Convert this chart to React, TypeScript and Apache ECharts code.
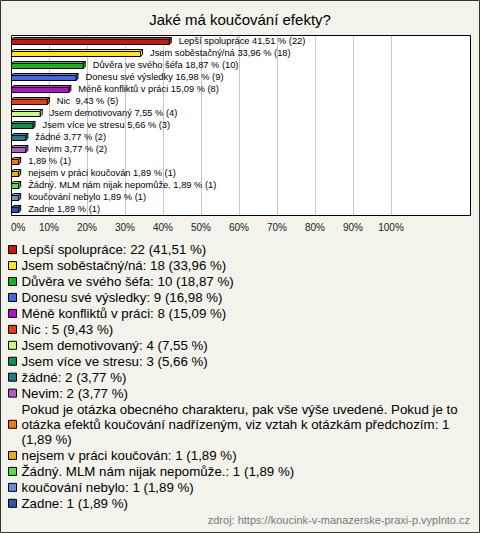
import React, { useEffect, useRef } from "react";
import * as echarts from "echarts";

const FONT = '"Liberation Sans", Arial, sans-serif';

const titleText = "Jaké má koučování efekty?";
const sourceText = "zdroj: https://koucink-v-manazerske-praxi-p.vyplnto.cz";

const categories = [
  "Lepší spolupráce",
  "Jsem soběstačný/ná",
  "Důvěra ve svého šéfa",
  "Donesu své výsledky",
  "Méně konfliktů v práci",
  "Nic ",
  "Jsem demotivovaný",
  "Jsem více ve stresu",
  "žádné",
  "Nevim",
  "Pokud je otázka obecného charakteru, pak vše výše uvedené. Pokud je to otázka efektů koučování nadřízeným, viz vztah k otázkám předchozím",
  "nejsem v práci koučován",
  "Žádný. MLM nám nijak nepomůže.",
  "koučování nebylo",
  "Zadne",
];

// short names shown next to the bars ("" = name omitted)
const barNames = [
  "Lepší spolupráce",
  "Jsem soběstačný/ná",
  "Důvěra ve svého šéfa",
  "Donesu své výsledky",
  "Méně konfliktů v práci",
  "Nic ",
  "Jsem demotivovaný",
  "Jsem více ve stresu",
  "žádné",
  "Nevim",
  "",
  "nejsem v práci koučován",
  "Žádný. MLM nám nijak nepomůže.",
  "koučování nebylo",
  "Zadne",
];

const counts = [22, 18, 10, 9, 8, 5, 4, 3, 2, 2, 1, 1, 1, 1, 1];
const percents = [41.51, 33.96, 18.87, 16.98, 15.09, 9.43, 7.55, 5.66, 3.77, 3.77, 1.89, 1.89, 1.89, 1.89, 1.89];

const colors = [
  "#c41a0e",
  "#fce614",
  "#16b416",
  "#4466e0",
  "#b012c8",
  "#e0420e",
  "#ccf87c",
  "#0e9050",
  "#1e7a8c",
  "#b45ac4",
  "#ec7c0c",
  "#e0b014",
  "#50e040",
  "#6890d8",
  "#2c54b0",
];

// where the long legend text wraps
const legendBreaks = [" Pokud je to ", " předchozím: 1 "];

const fmt = (v: number) => v.toFixed(2).replace(".", ",");

export default function App() {
  const ref = useRef<HTMLDivElement>(null);

  useEffect(() => {
    if (!ref.current) return;
    const chart = echarts.init(ref.current, null, { renderer: "svg" });

    const series: any[] = categories.map((name, i) => ({
      type: "custom",
      name,
      xAxisIndex: 1,
      yAxisIndex: 1,
      clip: false,
      z: 5,
      itemStyle: { color: colors[i] },
      data: [[percents[i], i]],
      renderItem: (params: any, api: any) => {
        const v = api.value(0);
        const c = api.value(1);
        const s = api.coord([0, c]);
        const e = api.coord([v, c]);
        const x0 = Math.round(s[0]) + 0.5;
        const x1 = e[0] + 0.5;
        const yc = Math.round(s[1]);
        const col = colors[i];
        const label = (barNames[i] ? barNames[i] + " " : "") + fmt(percents[i]) + " % (" + counts[i] + ")";
        return {
          type: "group",
          children: [
            {
              type: "polygon",
              shape: {
                points: [
                  [x0, yc - 1.5],
                  [x0 + 2, yc - 3.5],
                  [x1 + 2, yc - 3.5],
                  [x1, yc - 1.5],
                ],
              },
              style: { fill: echarts.color.lift(col, 0.15), stroke: "#000", lineWidth: 1 },
            },
            {
              type: "polygon",
              shape: {
                points: [
                  [x1, yc - 1.5],
                  [x1 + 2, yc - 3.5],
                  [x1 + 2, yc + 1.5],
                  [x1, yc + 3.5],
                ],
              },
              style: { fill: echarts.color.lift(col, -0.3), stroke: "#000", lineWidth: 1 },
            },
            {
              type: "rect",
              shape: { x: x0, y: yc - 1.5, width: x1 - x0, height: 5 },
              style: { fill: col, stroke: "#000", lineWidth: 1 },
            },
            {
              type: "text",
              style: {
                text: label,
                x: e[0] + 10,
                y: yc,
                verticalAlign: "middle",
                align: "left",
                fill: "#000",
                fontSize: 9.3,
                fontFamily: FONT,
              },
            },
          ],
        };
      },
    }));

    const option: any = {
      animation: false,
      backgroundColor: "#f3f2eb",
      title: {
        text: titleText,
        left: "center",
        top: 12,
        padding: 0,
        textStyle: { fontSize: 15, fontWeight: "normal", color: "#000", fontFamily: FONT },
      },
      grid: [
        {
          left: 11,
          top: 35,
          width: 459,
          height: 180,
          show: true,
          backgroundColor: "#ffffff",
          borderWidth: 0,
        },
        { left: 11, top: 35, width: 380, height: 180 },
      ],
      xAxis: [
        { type: "value", gridIndex: 0, show: false, min: 0, max: 1 },
        {
          type: "value",
          gridIndex: 1,
          min: 0,
          max: 100,
          interval: 10,
          axisLine: { show: false },
          axisTick: { show: false },
          axisLabel: {
            formatter: (v: number) => v + "%",
            alignMinLabel: "left",
            fontSize: 10,
            color: "#222",
            margin: 7,
            fontFamily: FONT,
          },
          splitLine: {
            show: true,
            showMinLine: false,
            showMaxLine: true,
            lineStyle: { color: "#c8c8c8", width: 1 },
          },
        },
      ],
      yAxis: [
        { type: "value", gridIndex: 0, show: false, min: 0, max: 1 },
        {
          type: "category",
          gridIndex: 1,
          data: categories,
          inverse: true,
          show: false,
        },
      ],
      legend: {
        orient: "vertical",
        left: 8,
        top: 242,
        padding: 0,
        itemGap: 0.75,
        itemWidth: 8,
        itemHeight: 8,
        icon: "rect",
        selectedMode: false,
        itemStyle: { borderColor: "#000", borderWidth: 1 },
        data: categories,
        formatter: (name: string) => {
          const i = categories.indexOf(name);
          let t = name + ": " + counts[i] + " (" + fmt(percents[i]) + " %)";
          legendBreaks.forEach((b) => {
            t = t.replace(b, b.replace(/ $/, "\n"));
          });
          return t;
        },
        textStyle: {
          fontSize: 13.3,
          lineHeight: 15.2,
          color: "#000",
          fontFamily: FONT,
        },
      },
      graphic: [
        {
          type: "rect",
          z: 100,
          silent: true,
          shape: { x: 11.5, y: 35.5, width: 459, height: 180 },
          style: { fill: "none", stroke: "#000", lineWidth: 1 },
        },
        {
          type: "rect",
          z: 100,
          silent: true,
          shape: { x: 0.5, y: 0.5, width: 479, height: 532 },
          style: { fill: "none", stroke: "#333", lineWidth: 1 },
        },
        {
          type: "text",
          right: 10,
          top: 514,
          style: { text: sourceText, fill: "#7a7a7a", fontSize: 11, fontFamily: FONT },
        },
      ],
      series,
    };

    chart.setOption(option);
    return () => chart.dispose();
  }, []);

  return (
    <div
      ref={ref}
      style={{ position: "absolute", left: 0, top: 0, width: 480, height: 533 }}
    />
  );
}
